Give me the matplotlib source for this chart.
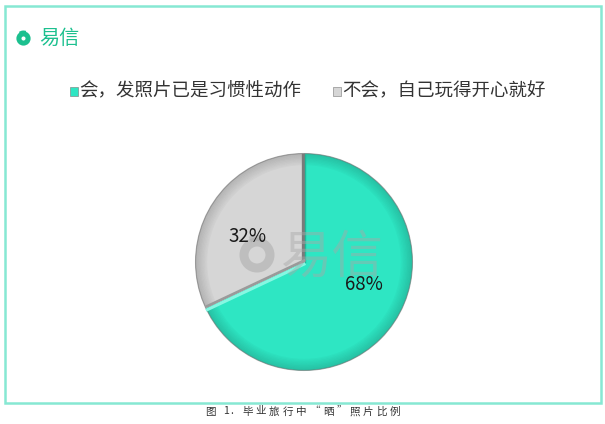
import numpy as np
import matplotlib.pyplot as plt
from matplotlib.patches import Rectangle, Circle, Wedge

plt.rcParams['font.family'] = ['Noto Sans CJK SC', 'DejaVu Sans']

labels = ['会，发照片已是习惯性动作', '不会，自己玩得开心就好']
shares = [68, 32]
pct_labels = ['68%', '32%']
colors = ['#2ee6c3', '#d6d6d6']
caption = '图 1. 毕业旅行中“晒”照片比例'

fig = plt.figure(figsize=(6.05, 4.24), dpi=100)
W, H = 605, 424

# frame around the chart
frame = fig.add_axes([0, 0, 1, 1])
frame.set_xlim(0, W)
frame.set_ylim(H, 0)
frame.axis('off')
frame.add_patch(Rectangle((4.5, 5.5), 596, 397, fill=False, edgecolor='#86e8d3', lw=1.8))

# brand logo top left
frame.add_patch(Circle((23.5, 38.5), 4.6, fill=False, edgecolor='#1cc08f', lw=3.6))
frame.add_patch(Wedge((23.5, 38.5), 8.0, 235, 290, width=3.2, facecolor='#1cc08f', edgecolor='none'))
frame.text(39, 38.5, '易信', color='#1cc08f', fontsize=14.5, va='center', ha='left')

# legend
leg_x = [70, 333]
for x0, lab, col in zip(leg_x, labels, colors):
    frame.add_patch(Rectangle((x0, 87), 8, 9, facecolor=col, edgecolor='#777777', lw=0.4))
    frame.text(x0 + 9, 91.5, lab, fontsize=13.3, color='#333333', va='center', ha='left')

# caption with spaced characters
cx = 205
for ch in caption:
    if ch == ' ':
        cx += 5
        continue
    frame.text(cx, 411.5, ch, fontsize=7.6, color='#333333', va='center', ha='left')
    cx += 7 if ch in '1.' else 13.4

# pie
R = 113
cxp, cyp = 304, 262
s = 1.2
ax = fig.add_axes([(cxp - R * s) / W, (H - cyp - R * s) / H, 2 * R * s / W, 2 * R * s / H])
ax.set_xlim(-s, s)
ax.set_ylim(-s, s)
ax.set_aspect('equal')
ax.axis('off')

wedges, _ = ax.pie(shares, colors=colors, startangle=90, counterclock=False, radius=1.0,
                   wedgeprops=dict(edgecolor='none'))
# rim shading to mimic the bevel
for k in range(9):
    ax.add_patch(Wedge((0, 0), 1.0 - k * 0.012, 0, 360, width=0.012, facecolor='black',
                       alpha=0.16 - k * 0.017, edgecolor='none', zorder=3))
ax.add_patch(Circle((0, 0), 1.0, fill=False, edgecolor='#6f6f6f', lw=0.8, alpha=0.6, zorder=3))
# boundaries between slices
ax.plot([-0.012, -0.012], [0, 0.99], color='#7a7a7a', lw=2.4, zorder=4)
ax.plot([0.012, 0.012], [0, 0.99], color='#1fb89a', lw=1.0, zorder=4)
ang = np.deg2rad(90 - 360 * shares[0] / 100)
ax.plot([0, 0.985 * np.cos(ang)], [0.012, 0.985 * np.sin(ang) + 0.012], color='#9a9a9a', lw=2.0, zorder=4)
ax.plot([0, 0.985 * np.cos(ang)], [-0.02, 0.985 * np.sin(ang) - 0.02], color='#86f7e2', lw=2.2, zorder=4)

# overlay for watermark and labels
top = fig.add_axes([0, 0, 1, 1])
top.set_xlim(0, W)
top.set_ylim(H, 0)
top.axis('off')
top.patch.set_alpha(0)
top.add_patch(Circle((257, 255), 13, fill=False, edgecolor='#a8a8a8', lw=6.5, alpha=0.5))
top.add_patch(Wedge((257, 255), 20, 245, 290, width=6, facecolor='#a8a8a8', alpha=0.5, edgecolor='none'))
top.text(281, 258, '易信', fontsize=37, color='#a8a8a8', alpha=0.45, va='center', ha='left')

# percentage labels
pct_pos = [(364, 284), (248, 236)]
for (px, py), t in zip(pct_pos, pct_labels):
    top.text(px, py, t, fontsize=13.5, color='#1a1a1a', ha='center', va='center', fontweight='medium')

fig.savefig('out.png', dpi=100, facecolor='white')
